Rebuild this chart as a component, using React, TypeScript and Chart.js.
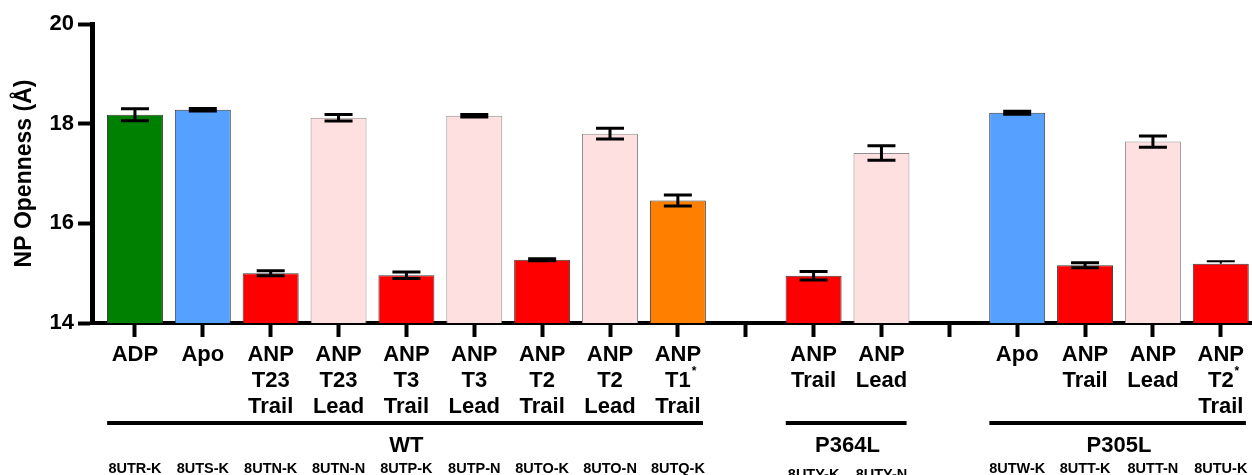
import { useEffect, useRef } from "react";
import { Chart, registerables } from "chart.js";

Chart.register(...registerables);

// ---- data ----
const categoryLabels: string[][] = [
  ["ADP"],
  ["Apo"],
  ["ANP", "T23", "Trail"],
  ["ANP", "T23", "Lead"],
  ["ANP", "T3", "Trail"],
  ["ANP", "T3", "Lead"],
  ["ANP", "T2", "Trail"],
  ["ANP", "T2", "Lead"],
  ["ANP", "T1*", "Trail"],
  [],
  ["ANP", "Trail"],
  ["ANP", "Lead"],
  [],
  ["Apo"],
  ["ANP", "Trail"],
  ["ANP", "Lead"],
  ["ANP", "T2*", "Trail"],
];

const meanValues: (number | null)[] = [
  18.18, 18.28, 15.0, 18.12, 14.96, 18.16, 15.27, 17.8, 16.46,
  null,
  14.95, 17.41,
  null,
  18.22, 15.16, 17.64, 15.19,
];

const errorValues: (number | null)[] = [
  0.12, 0.025, 0.05, 0.065, 0.065, 0.025, 0.02, 0.11, 0.11,
  null,
  0.085, 0.145,
  null,
  0.03, 0.05, 0.115, 0.05,
];

const pdbCodes: string[] = [
  "8UTR-K", "8UTS-K", "8UTN-K", "8UTN-N", "8UTP-K", "8UTP-N", "8UTO-K", "8UTO-N", "8UTQ-K",
  "",
  "8UTY-K", "8UTY-N",
  "",
  "8UTW-K", "8UTT-K", "8UTT-N", "8UTU-K",
];

const barColors: string[] = [
  "#008000", "#56A0FF", "#FF0000", "#FFE0E0", "#FF0000", "#FFE0E0", "#FF0000", "#FFE0E0", "#FF8000",
  "",
  "#FF0000", "#FFE0E0",
  "",
  "#56A0FF", "#FF0000", "#FFE0E0", "#FF0000",
];

const groupNames = ["WT", "P364L", "P305L"];
const groupFirst = [0, 10, 13];
const groupLast = [8, 11, 16];

const yTicks = [14, 16, 18, 20];

// ---- styling ----
const FONT = "'Liberation Sans', Arial, Helvetica, sans-serif";
const thinErrorIndex = 16;
const groupCodeDrop = [0, 6, 0];

const errorBarsPlugin = {
  id: "errorBars",
  afterDatasetsDraw(chart: any) {
    const { ctx, scales } = chart;
    const x = scales.x;
    const y = scales.y;
    ctx.save();
    ctx.strokeStyle = "#000";
    ctx.lineCap = "butt";
    meanValues.forEach((m, i) => {
      const e = errorValues[i];
      if (m == null || e == null) return;
      const cx = x.getPixelForValue(i);
      const yt = y.getPixelForValue(m + e);
      const yb = y.getPixelForValue(m - e);
      const thin = i === thinErrorIndex;
      ctx.lineWidth = thin ? 2 : 3;
      ctx.beginPath();
      ctx.moveTo(cx, yt);
      ctx.lineTo(cx, thin ? y.getPixelForValue(m) : yb);
      ctx.moveTo(cx - 14, yt);
      ctx.lineTo(cx + 14, yt);
      if (!thin) {
        ctx.moveTo(cx - 14, yb);
        ctx.lineTo(cx + 14, yb);
      }
      ctx.stroke();
    });
    ctx.restore();
  },
};

const labelsPlugin = {
  id: "categoryLabels",
  afterDraw(chart: any) {
    const { ctx, chartArea, scales } = chart;
    const x = scales.x;
    const base = chartArea.bottom;
    ctx.save();
    ctx.fillStyle = "#000";
    ctx.textBaseline = "alphabetic";
    categoryLabels.forEach((lines, i) => {
      const cx = x.getPixelForValue(i);
      lines.forEach((line, j) => {
        const ly = base + 38 + j * 26;
        const star = line.endsWith("*");
        const text = star ? line.slice(0, -1) : line;
        ctx.font = `bold 22px ${FONT}`;
        ctx.textAlign = "center";
        ctx.fillText(text, cx, ly);
        if (star) {
          const w = ctx.measureText(text).width;
          ctx.font = `bold 12px ${FONT}`;
          ctx.textAlign = "left";
          ctx.fillText("*", cx + w / 2 + 1, ly - 12);
        }
      });
    });

    groupNames.forEach((name, g) => {
      const x0 = x.getPixelForValue(groupFirst[g] - 0.41);
      const x1 = x.getPixelForValue(groupLast[g] + 0.37);
      ctx.fillRect(x0, base + 98, x1 - x0, 4);
      const cx = (x.getPixelForValue(groupFirst[g]) + x.getPixelForValue(groupLast[g])) / 2;
      ctx.font = `bold 22px ${FONT}`;
      ctx.textAlign = "center";
      ctx.fillText(name, cx, base + 129);
      ctx.font = `bold 14.5px ${FONT}`;
      for (let i = groupFirst[g]; i <= groupLast[g]; i++) {
        ctx.fillText(pdbCodes[i], x.getPixelForValue(i), base + 150 + groupCodeDrop[g]);
      }
    });
    ctx.restore();
  },
};

export default function App() {
  const canvasRef = useRef<HTMLCanvasElement | null>(null);

  useEffect(() => {
    const canvas = canvasRef.current;
    if (!canvas) return;
    const idx = meanValues.map((_, i) => i).filter((i) => meanValues[i] != null);
    const chart = new Chart(canvas, {
      type: "bar",
      data: {
        datasets: [
          {
            data: idx.map((i) => ({ x: i, y: meanValues[i] as number })),
            backgroundColor: idx.map((i) => barColors[i]),
            borderColor: idx.map((i) => (barColors[i] === "#FFE0E0" ? "#8f8f8f" : "#3c3c3c")),
            borderWidth: 1,
            barPercentage: 0.825,
            categoryPercentage: 1,
          },
        ],
      },
      options: {
        animation: false,
        responsive: false,
        layout: { padding: { top: 24, right: 0, bottom: 0, left: 0 } },
        plugins: {
          legend: { display: false },
          tooltip: { enabled: false },
        },
        scales: {
          x: {
            type: "linear",
            min: -0.633,
            max: 16.46,
            offset: false,
            z: 1,
            afterBuildTicks: (s: any) => {
              s.ticks = categoryLabels.map((_, i) => ({ value: i }));
            },
            afterFit: (s: any) => {
              s.height = 152;
            },
            ticks: { display: false },
            grid: {
              display: true,
              offset: false,
              drawOnChartArea: false,
              drawTicks: true,
              tickLength: 14,
              tickWidth: 4,
              tickColor: "#000",
            },
            border: { display: true, color: "#000", width: 4 },
          },
          y: {
            type: "linear",
            min: 14,
            max: 20,
            z: 1,
            afterBuildTicks: (s: any) => {
              s.ticks = yTicks.map((v) => ({ value: v }));
            },
            afterFit: (s: any) => {
              s.width = 92;
            },
            ticks: {
              color: "#000",
              padding: 4,
              font: { family: FONT, size: 22, weight: "bold" },
            },
            grid: {
              display: true,
              drawOnChartArea: false,
              drawTicks: true,
              tickLength: 14,
              tickWidth: 4,
              tickColor: "#000",
            },
            border: { display: true, color: "#000", width: 5 },
            title: {
              display: true,
              text: "NP Openness (Å)",
              color: "#000",
              font: { family: FONT, size: 23, weight: "bold" },
              padding: { top: 11, bottom: 0 },
            },
          },
        },
      } as any,
      plugins: [errorBarsPlugin, labelsPlugin],
    });
    return () => chart.destroy();
  }, []);

  return (
    <div style={{ position: "absolute", left: 0, top: 0, width: 1252, height: 475, background: "#fff" }}>
      <canvas ref={canvasRef} width={1252} height={475} style={{ display: "block" }} />
    </div>
  );
}
